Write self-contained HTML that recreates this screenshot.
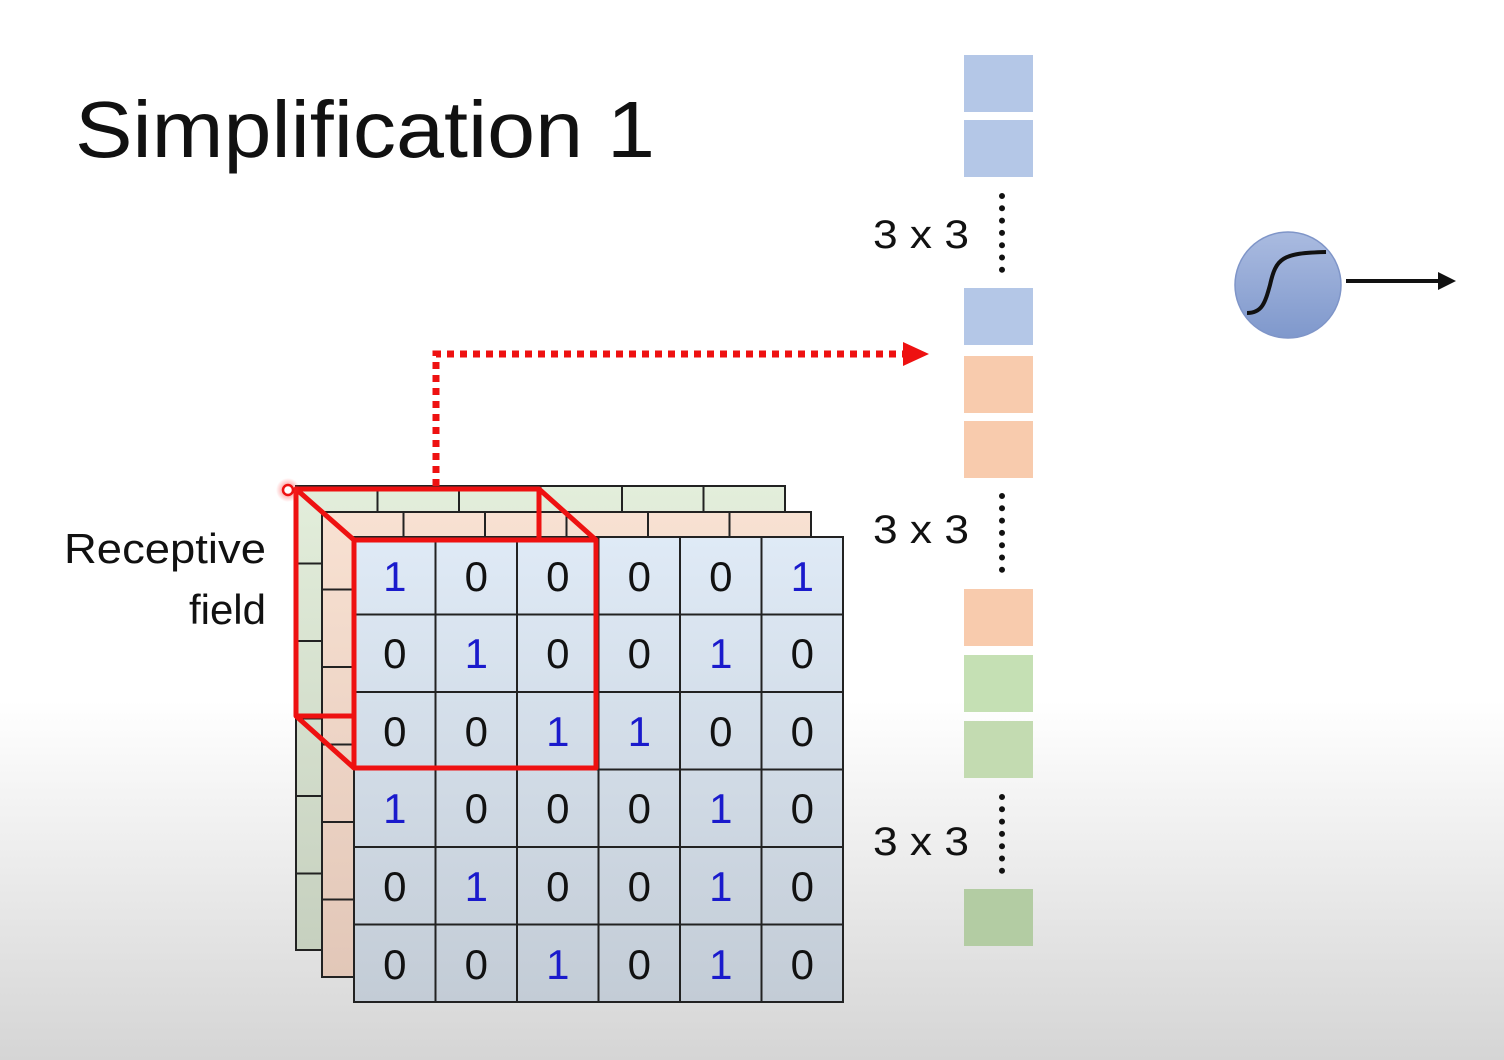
<!DOCTYPE html>
<html><head><meta charset="utf-8"><style>
html,body{margin:0;padding:0;}
body{width:1504px;height:1060px;overflow:hidden;background:linear-gradient(to bottom,#fff 0,#fff 700px,#d5d5d5 1060px);font-family:"Liberation Sans",sans-serif;}
svg{position:absolute;left:0;top:0;}
</style></head><body>
<svg width="1504" height="1060" viewBox="0 0 1504 1060" xmlns="http://www.w3.org/2000/svg">
<defs>
<linearGradient id="gb" x1="0" y1="0" x2="0" y2="1"><stop offset="0" stop-color="#dfeaf6"/><stop offset="1" stop-color="#c3ccd6"/></linearGradient>
<linearGradient id="go" x1="0" y1="0" x2="0" y2="1"><stop offset="0" stop-color="#f8e1d2"/><stop offset="1" stop-color="#e2c7b8"/></linearGradient>
<linearGradient id="gg" x1="0" y1="0" x2="0" y2="1"><stop offset="0" stop-color="#e3eedb"/><stop offset="1" stop-color="#c6d0bf"/></linearGradient>
<linearGradient id="gc" x1="0" y1="0" x2="0" y2="1"><stop offset="0" stop-color="#aabbe0"/><stop offset="1" stop-color="#7f98cc"/></linearGradient>
<radialGradient id="glow"><stop offset="0" stop-color="#ff3030" stop-opacity="0.7"/><stop offset="1" stop-color="#ff3030" stop-opacity="0"/></radialGradient>
</defs>
<text x="75" y="157" font-size="80" textLength="580" lengthAdjust="spacingAndGlyphs" fill="#111">Simplification 1</text>
<g font-size="42" fill="#111" text-anchor="end">
<text x="266" y="563" textLength="202" lengthAdjust="spacingAndGlyphs">Receptive</text>
<text x="266" y="624">field</text>
</g>
<g stroke="#222" stroke-width="2">
<rect x="296" y="486" width="489" height="464" fill="url(#gg)"/>
<path d="M377.5 486V950M459 486V950M540.5 486V950M622 486V950M703.5 486V950M296 563.5H785M296 641H785M296 718.5H785M296 796H785M296 873.5H785" fill="none"/>
<rect x="322" y="512" width="489" height="465" fill="url(#go)"/>
<path d="M403.5 512V977M485 512V977M566.5 512V977M648 512V977M729.5 512V977M322 589.5H811M322 667H811M322 744.5H811M322 822H811M322 899.5H811" fill="none"/>
<rect x="354" y="537" width="489" height="465" fill="url(#gb)"/>
<path d="M435.5 537V1002M517 537V1002M598.5 537V1002M680 537V1002M761.5 537V1002M354 614.5H843M354 692H843M354 769.5H843M354 847H843M354 924.5H843" fill="none"/>
</g>
<g font-size="42" text-anchor="middle" fill="#111">
<text x="394.75" y="591" fill="#1a1acc">1</text><text x="476.25" y="591">0</text><text x="557.75" y="591">0</text><text x="639.25" y="591">0</text><text x="720.75" y="591">0</text><text x="802.25" y="591" fill="#1a1acc">1</text>
<text x="394.75" y="668">0</text><text x="476.25" y="668" fill="#1a1acc">1</text><text x="557.75" y="668">0</text><text x="639.25" y="668">0</text><text x="720.75" y="668" fill="#1a1acc">1</text><text x="802.25" y="668">0</text>
<text x="394.75" y="746">0</text><text x="476.25" y="746">0</text><text x="557.75" y="746" fill="#1a1acc">1</text><text x="639.25" y="746" fill="#1a1acc">1</text><text x="720.75" y="746">0</text><text x="802.25" y="746">0</text>
<text x="394.75" y="823" fill="#1a1acc">1</text><text x="476.25" y="823">0</text><text x="557.75" y="823">0</text><text x="639.25" y="823">0</text><text x="720.75" y="823" fill="#1a1acc">1</text><text x="802.25" y="823">0</text>
<text x="394.75" y="901">0</text><text x="476.25" y="901" fill="#1a1acc">1</text><text x="557.75" y="901">0</text><text x="639.25" y="901">0</text><text x="720.75" y="901" fill="#1a1acc">1</text><text x="802.25" y="901">0</text>
<text x="394.75" y="979">0</text><text x="476.25" y="979">0</text><text x="557.75" y="979" fill="#1a1acc">1</text><text x="639.25" y="979">0</text><text x="720.75" y="979" fill="#1a1acc">1</text><text x="802.25" y="979">0</text>
</g>
<g stroke="#ee1111" stroke-width="5" fill="none" stroke-linejoin="round">
<path d="M354 716H296V489H539V540"/>
<rect x="354" y="540" width="242" height="228"/>
<path d="M296 489L354 540M539 489L596 540M296 716L354 768"/>
</g>
<circle cx="288" cy="490" r="12" fill="url(#glow)"/>
<circle cx="288" cy="490" r="5" fill="#fff" stroke="#ee1111" stroke-width="2.5"/>
<path d="M436 486V354H905" stroke="#ee1111" stroke-width="7" stroke-dasharray="7 6" fill="none"/>
<polygon points="903,342 929,354 903,366" fill="#ee1111"/>
<g>
<rect x="964" y="55" width="69" height="57" fill="#b4c7e7"/>
<rect x="964" y="120" width="69" height="57" fill="#b4c7e7"/>
<rect x="964" y="288" width="69" height="57" fill="#b4c7e7"/>
<rect x="964" y="356" width="69" height="57" fill="#f8cbad"/>
<rect x="964" y="421" width="69" height="57" fill="#f8cbad"/>
<rect x="964" y="589" width="69" height="57" fill="#f8cbad"/>
<rect x="964" y="655" width="69" height="57" fill="#c5e0b4"/>
<rect x="964" y="721" width="69" height="57" fill="#c3dbb1"/>
<rect x="964" y="889" width="69" height="57" fill="#b3cca3"/>
</g>
<g stroke="#111" stroke-width="6" stroke-linecap="round" stroke-dasharray="0 12.3">
<path d="M1002 196V270"/><path d="M1002 496V570"/><path d="M1002 797V871"/>
</g>
<g font-size="40" fill="#111">
<text x="873" y="248" textLength="96" lengthAdjust="spacingAndGlyphs">3 x 3</text>
<text x="873" y="543" textLength="96" lengthAdjust="spacingAndGlyphs">3 x 3</text>
<text x="873" y="855" textLength="96" lengthAdjust="spacingAndGlyphs">3 x 3</text>
</g>
<circle cx="1288" cy="285" r="53" fill="url(#gc)" stroke="#7f95c8" stroke-width="1.5"/>
<path d="M1247 313C1262 313 1265 303 1270 285C1276 258 1282 253 1326 252" stroke="#111" stroke-width="4" fill="none"/>
<path d="M1346 281H1440" stroke="#111" stroke-width="4"/>
<polygon points="1438,272 1456,281 1438,290" fill="#111"/>
</svg>
</body></html>
